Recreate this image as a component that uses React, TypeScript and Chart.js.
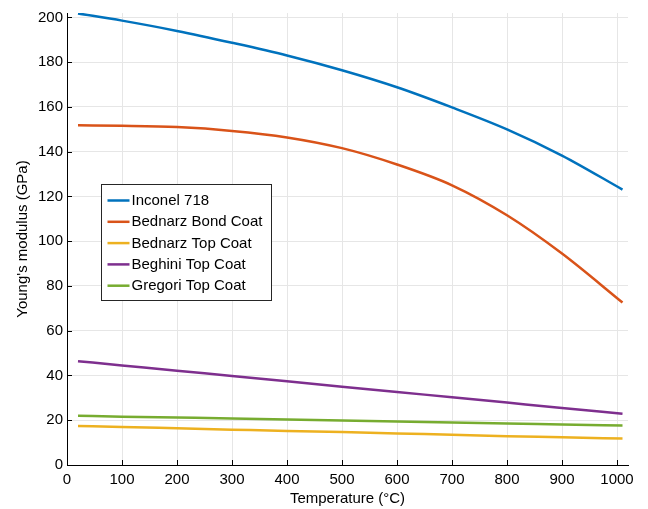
import React, { useEffect, useRef } from "react";
import { Chart, registerables } from "chart.js";

Chart.register(...registerables);

const temperatures = [20, 100, 200, 300, 400, 500, 600, 700, 800, 900, 1010];
const inconel718 = [201.8, 198.6, 194.0, 188.7, 183.0, 176.4, 168.8, 159.8, 150.0, 138.3, 123.1];
const bednarzBond = [151.8, 151.6, 151.0, 149.3, 146.4, 141.6, 134.3, 125.0, 111.6, 94.5, 72.6];
const bednarzTop = [17.4, 17.0, 16.4, 15.8, 15.2, 14.7, 14.1, 13.5, 12.9, 12.4, 11.8];
const beghiniTop = [46.4, 44.5, 42.1, 39.8, 37.4, 35.0, 32.6, 30.3, 27.9, 25.5, 22.9];
const gregoriTop = [22.0, 21.6, 21.2, 20.8, 20.3, 19.9, 19.4, 19.0, 18.5, 18.1, 17.6];

const seriesNames = ["Inconel 718", "Bednarz Bond Coat", "Bednarz Top Coat", "Beghini Top Coat", "Gregori Top Coat"];
const seriesColors = ["#0072BD", "#D95319", "#EDB120", "#7E2F8E", "#77AC30"];
const seriesValues = [inconel718, bednarzBond, bednarzTop, beghiniTop, gregoriTop];

const xTitle = "Temperature (°C)";
const yTitle = "Young's modulus (GPa)";

const FONT = "'Liberation Sans', Arial, Helvetica, sans-serif";

const inwardTicks = {
  id: "inwardTicks",
  afterDatasetsDraw(chart: any) {
    const { ctx, chartArea, scales } = chart;
    ctx.save();
    ctx.strokeStyle = "#000";
    ctx.lineWidth = 1;
    ctx.beginPath();
    scales.x.ticks.forEach((t: any) => {
      const px = Math.round(scales.x.getPixelForValue(t.value)) + 0.5;
      ctx.moveTo(px, chartArea.bottom);
      ctx.lineTo(px, chartArea.bottom - 5);
    });
    scales.y.ticks.forEach((t: any) => {
      const py = Math.round(scales.y.getPixelForValue(t.value)) + 0.5;
      ctx.moveTo(chartArea.left, py);
      ctx.lineTo(chartArea.left + 5, py);
    });
    ctx.stroke();
    ctx.restore();
  },
};

const boxLegend = {
  id: "boxLegend",
  afterDraw(chart: any) {
    const { ctx, chartArea } = chart;
    const x = chartArea.left + 34.5;
    const y = chartArea.top + 171.5;
    const w = 170;
    const h = 116;
    ctx.save();
    ctx.fillStyle = "#fff";
    ctx.fillRect(x, y, w, h);
    ctx.strokeStyle = "#262626";
    ctx.lineWidth = 1;
    ctx.strokeRect(x, y, w, h);
    ctx.font = `15px ${FONT}`;
    ctx.textBaseline = "middle";
    ctx.textAlign = "left";
    chart.data.datasets.forEach((ds: any, i: number) => {
      const cy = y + 16 + i * 21.3;
      ctx.strokeStyle = ds.borderColor;
      ctx.lineWidth = 2.5;
      ctx.beginPath();
      ctx.moveTo(x + 6, cy);
      ctx.lineTo(x + 28, cy);
      ctx.stroke();
      ctx.fillStyle = "#000";
      ctx.fillText(ds.label, x + 30, cy + 0.5);
    });
    ctx.restore();
  },
};

export default function App() {
  const canvasRef = useRef<HTMLCanvasElement | null>(null);

  useEffect(() => {
    document.body.style.margin = "0";
    const canvas = canvasRef.current;
    if (!canvas) return;
    const chart = new Chart(canvas, {
      type: "line",
      data: {
        datasets: seriesNames.map((name, i) => ({
          label: name,
          data: temperatures.map((t, j) => ({ x: t, y: seriesValues[i][j] })),
          borderColor: seriesColors[i],
          backgroundColor: seriesColors[i],
          borderWidth: 2.5,
          pointRadius: 0,
          cubicInterpolationMode: "monotone" as const,
          fill: false,
        })),
      },
      options: {
        animation: false,
        responsive: false,
        maintainAspectRatio: false,
        layout: { padding: { top: 11, right: 20, left: 0, bottom: 0 } },
        plugins: {
          legend: { display: false },
          tooltip: { enabled: false },
        },
        scales: {
          x: {
            type: "linear",
            min: 0,
            max: 1020,
            afterFit: (s: any) => {
              s.height = 44;
            },
            border: { display: true, color: "#000", width: 1 },
            grid: { color: "#e6e6e6", drawTicks: false, lineWidth: 1 },
            ticks: {
              stepSize: 100,
              includeBounds: false,
              padding: 6,
              color: "#000",
              font: { family: FONT, size: 15 },
              maxRotation: 0,
              callback: (v: any) => String(v),
            },
            title: {
              display: true,
              text: xTitle,
              color: "#000",
              font: { family: FONT, size: 15 },
              padding: { top: 0, bottom: 1 },
            },
          },
          y: {
            type: "linear",
            min: 0,
            max: 202,
            afterFit: (s: any) => {
              s.width = 67;
            },
            border: { display: true, color: "#000", width: 1 },
            grid: { color: "#e6e6e6", drawTicks: false, lineWidth: 1 },
            ticks: {
              stepSize: 20,
              includeBounds: false,
              padding: 4,
              color: "#000",
              font: { family: FONT, size: 15 },
              callback: (v: any) => String(v),
            },
            title: {
              display: true,
              text: yTitle,
              color: "#000",
              font: { family: FONT, size: 15 },
              padding: { top: 14, bottom: 0 },
            },
          },
        },
      },
      plugins: [inwardTicks, boxLegend],
    });
    return () => chart.destroy();
  }, []);

  return (
    <div style={{ width: 648, height: 509 }}>
      <canvas ref={canvasRef} width={648} height={509} style={{ display: "block" }} />
    </div>
  );
}
